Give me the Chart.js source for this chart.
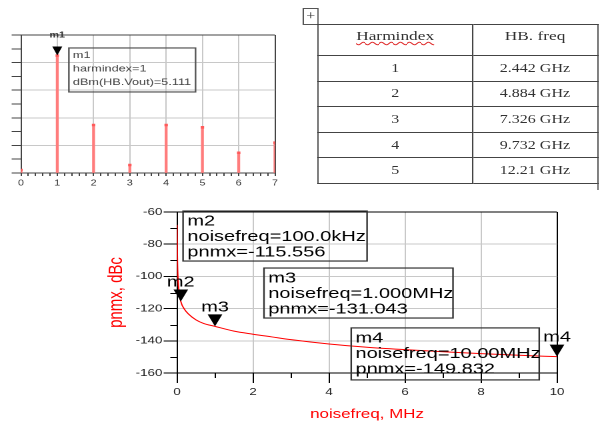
<!DOCTYPE html>
<html>
<head>
<meta charset="utf-8">
<script src="https://cdn.jsdelivr.net/npm/chart.js@4.4.1/dist/chart.umd.min.js"></script>
<style>
  html, body { margin: 0; padding: 0; background: #fff; overflow: hidden; }
  /* the reference is a horizontally stretched screenshot, so lay out at 3/4 width and stretch */
  #page {
    position: absolute; left: 0; top: 0; width: 452px; height: 424px; overflow: hidden;
    transform: scaleX(1.3333); transform-origin: 0 0;
  }
  #harmBox { position: absolute; left: -40px; top: 0; }
  #noiseBox { position: absolute; left: 60px; top: 195px; }
  #tblHandle {
    position: absolute; left: 227px; top: 8px; width: 10px; height: 15px;
    border: 1px solid #555; font: 12px "Liberation Serif", serif; line-height: 15px;
    text-align: center; color: #333;
  }
  #harmTable {
    position: absolute; left: 237.75px; top: 24px; width: 210.75px;
    border-collapse: collapse; table-layout: fixed;
    font-family: "Liberation Serif", "Times New Roman", serif; color: #333;
  }
  #harmTable td, #harmTable th {
    border: 1px solid #444; padding: 0; text-align: center; font-weight: normal; font-size: 12px;
  }
  #harmTable tr { height: 25.6px; }
  #harmTable tr.hd { height: 31px; }
  #harmTable th { font-size: 13px; vertical-align: top; padding-top: 3px; }
  #harmTable .sq { text-decoration: underline wavy #e03030; text-decoration-thickness: 1px; }
  #tblEnd { position: absolute; left: 448px; top: 183px; height: 7px; border-left: 1px solid #555; }
</style>
</head>
<body>
<div id="page">
  <div id="harmBox"><canvas id="harmChart" width="260" height="195"></canvas></div>
  <div id="tblHandle">+</div>
  <table id="harmTable"></table>
  <div id="tblEnd"></div>
  <div id="noiseBox"><canvas id="noiseChart" width="380" height="229"></canvas></div>
</div>
<script>
/**************** Data ****************/
// harmonic spectrum (top left)
const harmIndex = [0, 1, 2, 3, 4, 5, 6, 7];
const harmDbm = [-77.8, 5.111, -45.2, -74.2, -45.2, -46.9, -65.3, -58];

// harmonic frequency table
const tableHarm = [1, 2, 3, 4, 5];
const tableFreqGHz = ["2.442", "4.884", "7.326", "9.732", "12.21"];

// phase noise curve
const noiseFreqMHz = [0.002, 0.01, 0.03, 0.05, 0.1, 0.2, 0.3, 0.5, 0.7, 1, 1.5, 2, 2.5, 3, 4, 5, 6, 7, 8, 9, 10];
const pnmxDbc = [-68, -88, -103, -108.5, -115.556, -120.5, -123.3, -127, -129.2, -131.043, -134, -135.9,
  -137.6, -139.3, -142, -144, -145.5, -146.8, -148, -149, -149.832];

// markers
const markerName = ["m2", "m3", "m4"];
const markerFreqMHz = [0.1, 1, 10];
const markerPnmx = [-115.556, -131.043, -149.832];

const FONT = '"Liberation Sans", Arial, sans-serif';
Chart.defaults.font.family = FONT;
Chart.defaults.color = "#222";

function fmtFreq(f) {
  return f < 1 ? (f * 1000).toPrecision(4) + "kHz" : f.toPrecision(4) + "MHz";
}

/**************** Table ****************/
let rows = '<colgroup><col style="width:116.25px"><col></colgroup>' +
  '<tr class="hd"><th><span class="sq">Harmindex</span></th><th>HB. freq</th></tr>';
tableHarm.forEach((h, i) => {
  rows += `<tr><td>${h}</td><td>${tableFreqGHz[i]} GHz</td></tr>`;
});
document.getElementById("harmTable").innerHTML = rows;

/**************** Plugins ****************/
// marker triangle + name + readout box
const markerPlugin = {
  id: "markers",
  afterDatasetsDraw(chart, args, o) {
    if (!o.names) return;
    const { ctx } = chart;
    const x = chart.scales.x, y = chart.scales.y;
    ctx.save();
    o.names.forEach((name, i) => {
      const px = x.getPixelForValue(o.xs[i]);
      const py = y.getPixelForValue(o.ys[i]);
      ctx.fillStyle = "#000";
      ctx.beginPath();
      ctx.moveTo(px - o.triW / 2, py - o.triH);
      ctx.lineTo(px + o.triW / 2, py - o.triH);
      ctx.lineTo(px, py);
      ctx.closePath();
      ctx.fill();

      ctx.font = o.labelFont;
      ctx.textAlign = "center";
      ctx.textBaseline = "alphabetic";
      ctx.fillStyle = o.labelColor;
      ctx.fillText(name, px, py - o.triH - o.labelGap);

      const b = o.boxes[i];
      const bx = x.getPixelForValue(b.x);
      const by = y.getPixelForValue(b.y);
      ctx.strokeStyle = o.boxColor;
      ctx.lineWidth = o.boxLine;
      ctx.strokeRect(bx, by, b.w, b.h);
      ctx.font = o.textFont;
      ctx.textAlign = "left";
      ctx.fillStyle = o.textColor;
      o.lines[i].forEach((t, k) => {
        ctx.fillText(t, bx + o.padX, by + o.firstLine + k * o.lineGap);
      });
    });
    ctx.restore();
  },
};

// short ticks for unlabelled tick values
const minorTicks = {
  id: "minorTicks",
  afterDraw(chart, args, o) {
    const { ctx } = chart;
    const sx = chart.scales.x, sy = chart.scales.y;
    ctx.save();
    ctx.strokeStyle = o.color;
    ctx.lineWidth = 1;
    ctx.beginPath();
    sx.ticks.forEach((t) => {
      if (t.label !== "") return;
      const px = Math.round(sx.getPixelForValue(t.value)) + 0.5;
      ctx.moveTo(px, sx.top);
      ctx.lineTo(px, sx.top + o.length);
    });
    sy.ticks.forEach((t) => {
      if (t.label !== "") return;
      const py = Math.round(sy.getPixelForValue(t.value)) + 0.5;
      ctx.moveTo(sy.right - o.length, py);
      ctx.lineTo(sy.right, py);
    });
    ctx.stroke();
    ctx.restore();
  },
};

/**************** Harmonic spectrum ****************/
const harmPoints = harmIndex.map((h, i) => ({ x: h, y: harmDbm[i] }));

new Chart(document.getElementById("harmChart"), {
  type: "bar",
  data: {
    datasets: [
      {
        type: "bar",
        data: harmPoints,
        base: -80,
        backgroundColor: "#ff7c7c",
        barThickness: 1.5,
        order: 2,
      },
      {
        type: "line",
        data: harmPoints,
        showLine: false,
        pointStyle: "rect",
        pointRadius: 1.8,
        pointBorderWidth: 0,
        pointBackgroundColor: "#ff5a5a",
        order: 1,
      },
    ],
  },
  options: {
    responsive: false,
    animation: false,
    devicePixelRatio: 2,
    layout: { padding: { left: 0, right: 13.75, top: 35, bottom: 0 } },
    plugins: {
      legend: { display: false },
      tooltip: { enabled: false },
      markers: {
        names: ["m1"],
        xs: [1],
        ys: [5.111],
        triW: 7.5,
        triH: 9,
        labelGap: 9,
        labelFont: "bold 8px " + FONT,
        labelColor: "#333",
        boxes: [{ x: 1.32, y: 10.6, w: 95, h: 44 }],
        lines: [["m1", "harmindex=1", "dBm(HB.Vout)=5.111"]],
        textFont: "9.5px " + FONT,
        textColor: "#444",
        padX: 3,
        firstLine: 10,
        lineGap: 13.5,
        boxColor: "#555",
        boxLine: 1.2,
      },
    },
    scales: {
      x: {
        type: "linear",
        min: 0,
        max: 7,
        offset: false,
        ticks: {
          stepSize: 0.2,
          autoSkip: false,
          maxRotation: 0,
          callback: (v) => (Number.isInteger(v) ? v : ""),
          font: { size: 8 },
          color: "#333",
          padding: 2.7,
        },
        grid: {
          offset: false,
          color: (c) => {
            const v = c.tick ? c.tick.value : 0;
            if (v === 7) return "#444";
            return Number.isInteger(v) && v > 0 ? "#c8c8c8" : "rgba(0,0,0,0)";
          },
          tickColor: "#444",
          tickLength: 3,
        },
        border: { color: "#444" },
        afterFit: (s) => {
          s.height = 22;
        },
      },
      y: {
        min: -80,
        max: 20,
        ticks: { stepSize: 10, autoSkip: false, callback: () => "" },
        grid: {
          color: (c) => {
            const v = c.tick ? c.tick.value : 0;
            if (v === 20) return "#444";
            return v % 20 === 0 && v !== -80 ? "#c8c8c8" : "rgba(0,0,0,0)";
          },
          tickColor: "#444",
          tickLength: 7,
        },
        border: { color: "#444" },
        afterFit: (s) => {
          s.width = 55.75;
        },
      },
    },
  },
  plugins: [markerPlugin],
});

/**************** Phase noise ****************/
new Chart(document.getElementById("noiseChart"), {
  type: "line",
  data: {
    datasets: [
      {
        data: noiseFreqMHz.map((f, i) => ({ x: f, y: pnmxDbc[i] })),
        borderColor: "#ff0000",
        borderWidth: 1,
        pointRadius: 0,
        cubicInterpolationMode: "monotone",
        fill: false,
      },
    ],
  },
  options: {
    responsive: false,
    animation: false,
    devicePixelRatio: 2,
    layout: { padding: { left: 0, right: 22.25, top: 17, bottom: 0 } },
    plugins: {
      legend: { display: false },
      tooltip: { enabled: false },
      minorTicks: { color: "#000", length: 5 },
      markers: {
        names: markerName,
        xs: markerFreqMHz,
        ys: markerPnmx,
        triW: 11,
        triH: 12,
        labelGap: 3,
        labelFont: "15px " + FONT,
        labelColor: "#000",
        boxes: [
          { x: 0.16, y: -59.4, w: 138, h: 50 },
          { x: 2.29, y: -94.8, w: 141.75, h: 50 },
          { x: 4.585, y: -132, w: 141, h: 52 },
        ],
        lines: markerName.map((n, i) => [
          n,
          "noisefreq=" + fmtFreq(markerFreqMHz[i]),
          "pnmx=" + markerPnmx[i].toFixed(3),
        ]),
        textFont: "15px " + FONT,
        textColor: "#000",
        padX: 3.2,
        firstLine: 14.7,
        lineGap: 15.5,
        boxColor: "#333",
        boxLine: 1.2,
      },
    },
    scales: {
      x: {
        type: "linear",
        min: 0,
        max: 10,
        ticks: {
          stepSize: 1,
          autoSkip: false,
          maxRotation: 0,
          callback: (v) => (v % 2 === 0 ? v : ""),
          font: { size: 10 },
          color: "#222",
          padding: 3,
        },
        grid: {
          color: (c) => {
            const v = c.tick ? c.tick.value : 0;
            if (v === 10) return "#000";
            return v % 2 === 0 && v > 0 ? "#c8c8c8" : "rgba(0,0,0,0)";
          },
          tickColor: (c) => (c.tick && c.tick.value % 2 === 0 ? "#000" : "rgba(0,0,0,0)"),
          tickLength: 10,
        },
        border: { color: "#000" },
        title: {
          display: true,
          text: "noisefreq, MHz",
          color: "#ff0000",
          font: { size: 12.7 },
          padding: { top: 0, bottom: 2 },
        },
        afterFit: (s) => {
          s.height = 51;
        },
      },
      y: {
        min: -160,
        max: -60,
        ticks: {
          stepSize: 10,
          autoSkip: false,
          callback: (v) => (v % 20 === 0 ? v : ""),
          font: { size: 10 },
          color: "#222",
          padding: 1,
        },
        grid: {
          color: (c) => {
            const v = c.tick ? c.tick.value : 0;
            if (v === -60) return "#000";
            return v % 20 === 0 && v !== -160 ? "#c8c8c8" : "rgba(0,0,0,0)";
          },
          tickColor: (c) => (c.tick && c.tick.value % 20 === 0 ? "#000" : "rgba(0,0,0,0)"),
          tickLength: 10,
        },
        border: { color: "#000" },
        title: {
          display: true,
          text: "pnmx, dBc",
          color: "#ff0000",
          font: { size: 15 },
          padding: { top: 18.5, bottom: 0 },
        },
        afterFit: (s) => {
          s.width = 72.75;
        },
      },
    },
  },
  plugins: [markerPlugin, minorTicks],
});
</script>
</body>
</html>
